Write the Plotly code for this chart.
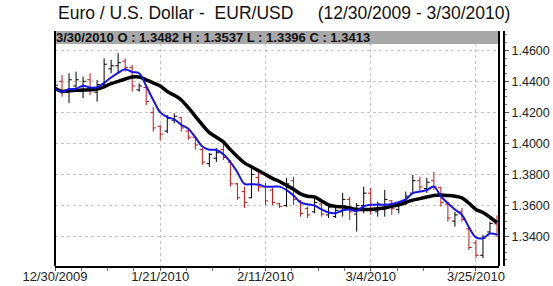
import pandas as pd
import plotly.graph_objects as go

# ---- data -------------------------------------------------------------
dates = [d for d in pd.bdate_range("2009-12-30", "2010-03-30") if d != pd.Timestamp("2010-01-01")]
date_labels = [f"{d.month}/{d.day}/{d.year}" for d in dates]

opens = [1.4330, 1.4400, 1.4330, 1.4370, 1.4335, 1.4410, 1.4330, 1.4380, 1.4480, 1.4500,
         1.4530, 1.4490, 1.4345, 1.4360, 1.4200, 1.4110, 1.4080, 1.4150, 1.4165, 1.4080,
         1.4040, 1.3960, 1.3870, 1.3905, 1.3960, 1.3880, 1.3740, 1.3690, 1.3650, 1.3780,
         1.3720, 1.3700, 1.3612, 1.3600, 1.3760, 1.3625, 1.3580, 1.3560, 1.3610, 1.3540,
         1.3530, 1.3560, 1.3640, 1.3545, 1.3600, 1.3680, 1.3560, 1.3590, 1.3630, 1.3575,
         1.3615, 1.3680, 1.3760, 1.3710, 1.3760, 1.3715, 1.3610, 1.3500, 1.3560, 1.3450,
         1.3360, 1.3280, 1.3430, 1.3482]
highs = [1.4390, 1.4441, 1.4452, 1.4462, 1.4430, 1.4452, 1.4409, 1.4548, 1.4538, 1.4581,
         1.4548, 1.4505, 1.4387, 1.4366, 1.4237, 1.4119, 1.4183, 1.4194, 1.4172, 1.4087,
         1.4044, 1.3971, 1.3939, 1.3971, 1.4022, 1.3894, 1.3746, 1.3722, 1.3851, 1.3818,
         1.3746, 1.3713, 1.3617, 1.3778, 1.3786, 1.3636, 1.3593, 1.3657, 1.3625, 1.3610,
         1.3585, 1.3681, 1.3657, 1.3617, 1.3722, 1.3713, 1.3625, 1.3701, 1.3636, 1.3625,
         1.3690, 1.3797, 1.3786, 1.3778, 1.3818, 1.3722, 1.3625, 1.3560, 1.3585, 1.3456,
         1.3378, 1.3411, 1.3497, 1.3537]
lows = [1.4310, 1.4301, 1.4259, 1.4344, 1.4291, 1.4312, 1.4269, 1.4366, 1.4452, 1.4452,
        1.4462, 1.4333, 1.4333, 1.4248, 1.4076, 1.4022, 1.4066, 1.4130, 1.4076, 1.4022,
        1.3960, 1.3861, 1.3849, 1.3881, 1.3894, 1.3722, 1.3636, 1.3585, 1.3647, 1.3690,
        1.3604, 1.3604, 1.3585, 1.3591, 1.3604, 1.3529, 1.3520, 1.3550, 1.3529, 1.3520,
        1.3520, 1.3529, 1.3507, 1.3432, 1.3550, 1.3540, 1.3529, 1.3529, 1.3540, 1.3549,
        1.3604, 1.3679, 1.3695, 1.3681, 1.3700, 1.3593, 1.3496, 1.3464, 1.3496, 1.3314,
        1.3261, 1.3261, 1.3422, 1.3396]
closes = [1.4375, 1.4330, 1.4410, 1.4410, 1.4400, 1.4340, 1.4380, 1.4510, 1.4500, 1.4520,
          1.4490, 1.4370, 1.4370, 1.4270, 1.4100, 1.4060, 1.4160, 1.4175, 1.4100, 1.4040,
          1.3990, 1.3880, 1.3930, 1.3940, 1.3910, 1.3740, 1.3650, 1.3620, 1.3800, 1.3720,
          1.3630, 1.3620, 1.3595, 1.3740, 1.3640, 1.3550, 1.3540, 1.3620, 1.3545, 1.3590,
          1.3570, 1.3640, 1.3560, 1.3600, 1.3680, 1.3570, 1.3610, 1.3640, 1.3580, 1.3610,
          1.3660, 1.3760, 1.3720, 1.3750, 1.3720, 1.3620, 1.3520, 1.3540, 1.3510, 1.3330,
          1.3280, 1.3390, 1.3485, 1.3413]
ma_slow = [1.4355, 1.4335, 1.4340, 1.4342, 1.4344, 1.4345, 1.4350, 1.4365, 1.4385, 1.4400,
           1.4415, 1.4428, 1.4428, 1.4410, 1.4390, 1.4370, 1.4335, 1.4310, 1.4280, 1.4230,
           1.4175, 1.4120, 1.4070, 1.4040, 1.4010, 1.3960, 1.3915, 1.3875, 1.3850, 1.3825,
           1.3800, 1.3775, 1.3755, 1.3730, 1.3705, 1.3675, 1.3660, 1.3655, 1.3630, 1.3605,
           1.3595, 1.3592, 1.3585, 1.3575, 1.3575, 1.3575, 1.3580, 1.3585, 1.3595, 1.3605,
           1.3620, 1.3635, 1.3645, 1.3655, 1.3665, 1.3668, 1.3665, 1.3660, 1.3650, 1.3615,
           1.3575, 1.3555, 1.3525, 1.3490]
ma_fast = [1.4355, 1.4333, 1.4350, 1.4352, 1.4372, 1.4360, 1.4362, 1.4390, 1.4425, 1.4455,
           1.4478, 1.4460, 1.4452, 1.4370, 1.4280, 1.4200, 1.4170, 1.4155, 1.4120, 1.4095,
           1.4040, 1.3980, 1.3960, 1.3958, 1.3930, 1.3880, 1.3815, 1.3740, 1.3738, 1.3735,
           1.3722, 1.3722, 1.3722, 1.3700, 1.3665, 1.3620, 1.3608, 1.3600, 1.3575, 1.3555,
           1.3552, 1.3570, 1.3575, 1.3565, 1.3595, 1.3605, 1.3605, 1.3605, 1.3610, 1.3622,
           1.3640, 1.3680, 1.3690, 1.3700, 1.3722, 1.3660, 1.3615, 1.3575, 1.3540, 1.3460,
           1.3395, 1.3390, 1.3420, 1.3413]

title_text = "Euro / U.S. Dollar -  EUR/USD     (12/30/2009 - 3/30/2010)"
header_text = "3/30/2010 O : 1.3482 H : 1.3537 L : 1.3396 C : 1.3413"
x_tick_idx = [0, 15, 30, 45, 60]
y_ticks = [1.34, 1.36, 1.38, 1.40, 1.42, 1.44, 1.46]

# ---- figure -----------------------------------------------------------
idx = list(range(len(opens)))
W, H = 553, 286
ML, MR, MT, MB = 55, 49, 31, 20
plot_w = W - ML - MR
plot_h = H - MT - MB
xdom_end = (499 - ML) / plot_w
font = "Arial, Liberation Sans, sans-serif"

fig = go.Figure()
fig.add_trace(go.Ohlc(
    x=idx, open=opens, high=highs, low=lows, close=closes,
    increasing=dict(line=dict(color="#000000", width=1)),
    decreasing=dict(line=dict(color="#c81414", width=1)),
    tickwidth=0.4, showlegend=False, hoverinfo="skip"))
fig.add_trace(go.Scatter(x=idx, y=ma_slow, mode="lines",
                         line=dict(color="#000000", width=3.5, shape="spline"),
                         showlegend=False, hoverinfo="skip"))
fig.add_trace(go.Scatter(x=idx, y=ma_fast, mode="lines",
                         line=dict(color="#1414e6", width=2, shape="spline"),
                         showlegend=False, hoverinfo="skip"))

fig.update_layout(
    width=W, height=H, margin=dict(l=ML, r=MR, t=MT, b=MB, autoexpand=False),
    paper_bgcolor="white", plot_bgcolor="white",
    font=dict(family=font, color="#333333"),
    xaxis=dict(domain=[0, xdom_end], range=[0, 63 + 2 / 7.02],
               rangeslider=dict(visible=False), automargin=False,
               tickmode="array", tickvals=x_tick_idx,
               ticktext=[date_labels[i] for i in x_tick_idx],
               tickfont=dict(size=13, color="#222222"),
               ticklabelstandoff=-6,
               showgrid=True, gridcolor="#c4c4c4", griddash="dot", gridwidth=1,
               ticks="outside", ticklen=3, tickcolor="#555555",
               minor=dict(dtick=3.75, tick0=0, ticks="outside", ticklen=3,
                          tickcolor="#777777", showgrid=False),
               showline=True, linecolor="#000000", linewidth=2,
               zeroline=False, fixedrange=True),
    yaxis=dict(side="right", anchor="free", position=1.0, automargin=False,
               range=[1.3211, 1.4724],
               tickmode="array", tickvals=y_ticks,
               ticktext=[f"{v:.4f}" for v in y_ticks],
               tickfont=dict(size=12.5, color="#222222"),
               showgrid=True, gridcolor="#c4c4c4", griddash="dot", gridwidth=1,
               ticks="outside", ticklen=4, tickcolor="#555555",
               minor=dict(dtick=0.005, tick0=1.34, ticks="outside", ticklen=2,
                          tickcolor="#777777", showgrid=False),
               showline=True, linecolor="#000000", linewidth=2,
               zeroline=False, fixedrange=True),
)

header_y0 = (H - MB - 44) / plot_h
fig.add_shape(type="rect", xref="paper", yref="paper", x0=0, x1=xdom_end,
              y0=header_y0, y1=1, fillcolor="#a8a8a8", line=dict(width=0), layer="above")
fig.add_shape(type="line", xref="paper", yref="paper", x0=0, x1=0, y0=0, y1=1,
              line=dict(color="#000000", width=2), layer="above")
fig.add_shape(type="line", xref="paper", yref="paper", x0=xdom_end, x1=xdom_end, y0=0, y1=1,
              line=dict(color="#000000", width=2), layer="above")

fig.add_annotation(text="<b>" + header_text + "</b>", xref="paper", yref="paper",
                   x=(54 - ML) / plot_w, y=(header_y0 + 1) / 2, xanchor="left", yanchor="middle",
                   showarrow=False, font=dict(size=13, color="#111111", family=font))
fig.add_annotation(text=title_text, xref="paper", yref="paper",
                   x=(284 - ML) / plot_w, y=(H - MB - 13.5) / plot_h,
                   xanchor="center", yanchor="middle", showarrow=False,
                   font=dict(size=17.5, color="#111111", family=font))

fig.write_html("out.html")
